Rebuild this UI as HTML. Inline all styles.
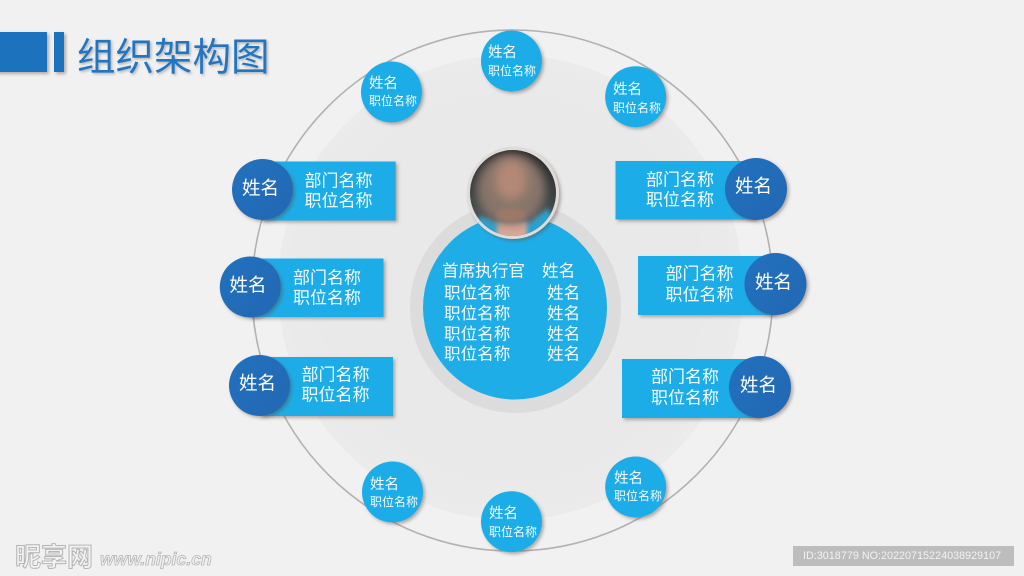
<!DOCTYPE html>
<html lang="zh">
<head>
<meta charset="utf-8">
<title>组织架构图</title>
<style>
html,body{margin:0;padding:0;background:#f1f1f1;width:1024px;height:576px;overflow:hidden}
svg{display:block}
text{font-family:"Liberation Sans","Noto Sans CJK SC",sans-serif;dominant-baseline:central}
.w{fill:#f4fbff}
.n{font-size:14.5px}
.s{font-size:12px}
.d{font-size:17px}
.b{font-size:18.5px;fill:#fff}
.c{font-size:16.6px}
</style>
</head>
<body>
<svg width="1024" height="576" viewBox="0 0 1024 576" xmlns="http://www.w3.org/2000/svg">
<defs>
<filter id="sh" x="-30%" y="-30%" width="170%" height="170%"><feDropShadow dx="2" dy="2" stdDeviation="1.6" flood-color="#5a4a40" flood-opacity=".42"/></filter>
<filter id="ts" x="-10%" y="-20%" width="120%" height="150%"><feDropShadow dx="1.5" dy="1.5" stdDeviation="1.2" flood-color="#555" flood-opacity=".4"/></filter>
<filter id="bl" x="-50%" y="-50%" width="200%" height="200%"><feGaussianBlur stdDeviation="5"/></filter>
<filter id="bl2" x="-50%" y="-50%" width="200%" height="200%"><feGaussianBlur stdDeviation="2"/></filter>
<radialGradient id="disc" cx=".5" cy=".5" r=".5"><stop offset=".8" stop-color="#e9e9ea"/><stop offset="1" stop-color="#ebebec"/></radialGradient>
<linearGradient id="dark" x1="0" y1="0" x2="1" y2="1"><stop offset="0" stop-color="#2070bd"/><stop offset="1" stop-color="#2069b3"/></linearGradient>
<linearGradient id="photoBg" x1="0" y1="0" x2="0" y2="1"><stop offset="0" stop-color="#1f1f20"/><stop offset=".6" stop-color="#3b4346"/><stop offset="1" stop-color="#59686c"/></linearGradient>
<clipPath id="ph"><circle cx="513" cy="193" r="43"/></clipPath>
</defs>

<rect width="1024" height="576" fill="#f1f1f1"/>

<!-- title -->
<rect x="-4" y="32" width="51" height="40" fill="#1f72bd" filter="url(#sh)"/>
<rect x="54" y="32" width="10" height="40" fill="#1f72bd" filter="url(#sh)"/>
<text x="77" y="58" font-size="38.5" fill="#2074c0" filter="url(#ts)">组织架构图</text>

<!-- rings -->
<circle cx="510.5" cy="287.5" r="232.5" fill="url(#disc)"/>
<circle cx="512.5" cy="290.5" r="260.5" fill="none" stroke="#b3b1af" stroke-width="1.6"/>

<!-- centre -->
<circle cx="515.5" cy="307.5" r="105.5" fill="#dcdcdc"/>
<circle cx="515" cy="307.5" r="92" fill="#1fade8"/>
<circle cx="513" cy="193" r="46" fill="#dedbd9" filter="url(#sh)"/>
<circle cx="513" cy="193" r="43" fill="url(#photoBg)"/>
<g clip-path="url(#ph)">
<path d="M470 240 L480 216 L497 222 L530 222 L548 208 L560 240 Z" fill="#27a3d3" filter="url(#bl2)"/>
<rect x="497" y="222" width="30" height="20" fill="#d9a896" filter="url(#bl2)"/>
<ellipse cx="511" cy="189" rx="35" ry="36" fill="#87746b" filter="url(#bl)"/>
<ellipse cx="511" cy="180" rx="16" ry="20" fill="#b48877" filter="url(#bl)"/>
<ellipse cx="511" cy="215" rx="15" ry="7" fill="#9c7868" filter="url(#bl2)"/>
</g>
<text class="w c" x="442" y="271">首席执行官</text><text class="w c" x="542" y="271">姓名</text>
<text class="w c" x="444" y="293">职位名称</text><text class="w c" x="547" y="293">姓名</text>
<text class="w c" x="444" y="313.5">职位名称</text><text class="w c" x="547" y="313.5">姓名</text>
<text class="w c" x="444" y="334">职位名称</text><text class="w c" x="547" y="334">姓名</text>
<text class="w c" x="444" y="354">职位名称</text><text class="w c" x="547" y="354">姓名</text>

<!-- small circles -->
<g fill="#1fade8">
<circle cx="511.5" cy="61" r="30.5" filter="url(#sh)"/>
<circle cx="391.5" cy="92" r="30.5" filter="url(#sh)"/>
<circle cx="635.7" cy="96.7" r="30.5" filter="url(#sh)"/>
<circle cx="392.5" cy="492" r="30.5" filter="url(#sh)"/>
<circle cx="511.5" cy="521.7" r="30.5" filter="url(#sh)"/>
<circle cx="635.7" cy="487" r="30.5" filter="url(#sh)"/>
</g>
<text class="w n" x="488" y="53">姓名</text><text class="w s" x="488" y="71">职位名称</text>
<text class="w n" x="369" y="84">姓名</text><text class="w s" x="369" y="101">职位名称</text>
<text class="w n" x="613" y="90">姓名</text><text class="w s" x="613" y="108">职位名称</text>
<text class="w n" x="370" y="485">姓名</text><text class="w s" x="370" y="502">职位名称</text>
<text class="w n" x="489" y="514">姓名</text><text class="w s" x="489" y="532">职位名称</text>
<text class="w n" x="614" y="479">姓名</text><text class="w s" x="614" y="496">职位名称</text>

<!-- left cards -->
<rect x="262" y="161.5" width="133.7" height="59" fill="#1fade8" filter="url(#sh)"/>
<circle cx="262.5" cy="189.5" r="30.5" fill="url(#dark)" filter="url(#sh)"/>
<text class="b" x="242" y="188">姓名</text>
<text class="w d" x="304.5" y="181">部门名称</text><text class="w d" x="304.5" y="201">职位名称</text>

<rect x="250" y="258.5" width="133.5" height="58.5" fill="#1fade8" filter="url(#sh)"/>
<circle cx="250.3" cy="287" r="30.5" fill="url(#dark)" filter="url(#sh)"/>
<text class="b" x="229.5" y="285">姓名</text>
<text class="w d" x="293" y="278">部门名称</text><text class="w d" x="293" y="298">职位名称</text>

<rect x="260" y="357" width="133" height="59" fill="#1fade8" filter="url(#sh)"/>
<circle cx="259.5" cy="385.5" r="30.5" fill="url(#dark)" filter="url(#sh)"/>
<text class="b" x="239" y="383">姓名</text>
<text class="w d" x="301.5" y="375">部门名称</text><text class="w d" x="301.5" y="395">职位名称</text>

<!-- right cards -->
<rect x="615.5" y="161" width="140" height="58.5" fill="#1fade8" filter="url(#sh)"/>
<circle cx="756" cy="189" r="31" fill="url(#dark)" filter="url(#sh)"/>
<text class="b" x="735" y="186">姓名</text>
<text class="w d" x="646" y="180">部门名称</text><text class="w d" x="646" y="200">职位名称</text>

<rect x="638" y="256" width="137" height="59" fill="#1fade8" filter="url(#sh)"/>
<circle cx="775.5" cy="284" r="31" fill="url(#dark)" filter="url(#sh)"/>
<text class="b" x="755" y="282">姓名</text>
<text class="w d" x="665.5" y="274">部门名称</text><text class="w d" x="665.5" y="295">职位名称</text>

<rect x="622" y="359" width="138" height="59" fill="#1fade8" filter="url(#sh)"/>
<circle cx="760" cy="387" r="31" fill="url(#dark)" filter="url(#sh)"/>
<text class="b" x="740" y="385">姓名</text>
<text class="w d" x="651" y="377">部门名称</text><text class="w d" x="651" y="398">职位名称</text>

<!-- watermark -->
<text x="15" y="557" font-size="26" font-weight="700" fill="#f3f3f3" stroke="#b5b5b5" stroke-width="1">昵享网</text>
<text x="100" y="559" font-size="17.6" font-weight="700" font-style="italic" fill="#f3f3f3" stroke="#b5b5b5" stroke-width=".8">www.nipic.cn</text>
<rect x="793" y="546" width="221" height="20" fill="#bdbdbd"/>
<text x="803" y="556" font-size="10.8" fill="#f2f2f2">ID:3018779 NO:20220715224038929107</text>
</svg>
</body>
</html>
